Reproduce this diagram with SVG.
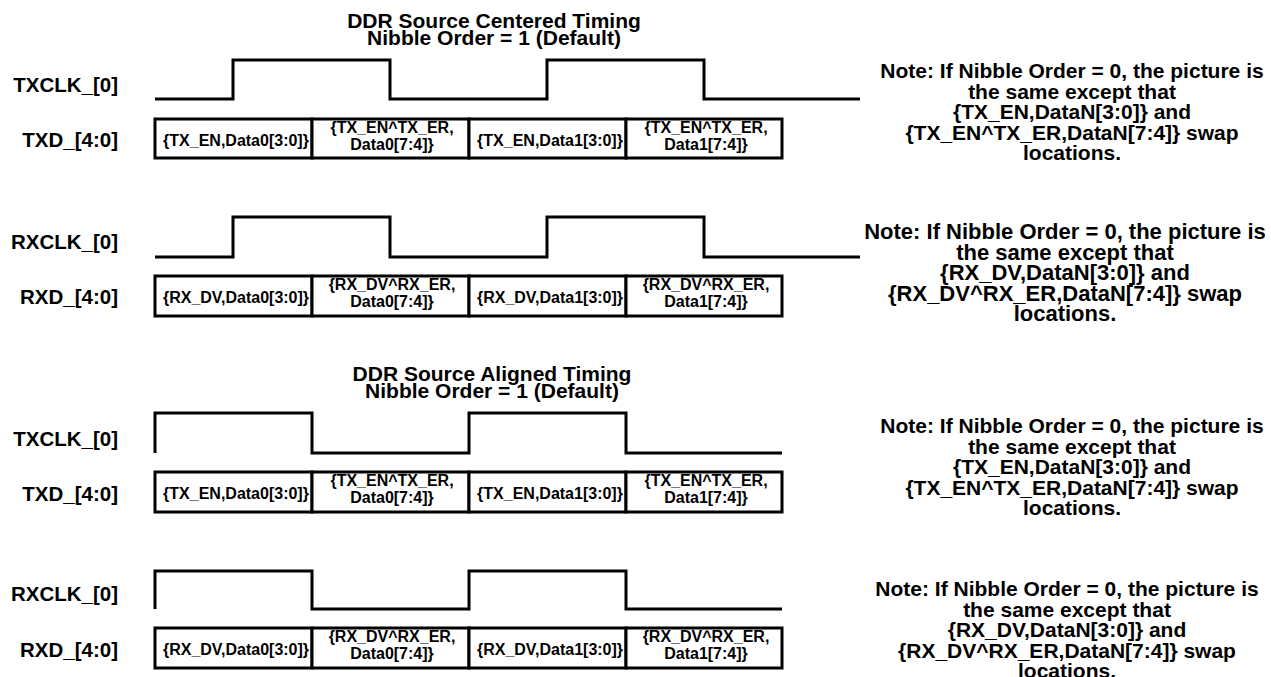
<svg xmlns="http://www.w3.org/2000/svg" width="1271" height="677" viewBox="0 0 1271 677">
<style>
text{font-family:"Liberation Sans",Arial,sans-serif;font-weight:bold;fill:#000}
.lbl{font-size:20.5px;text-anchor:end}
.title{font-size:21px;text-anchor:middle}
.ct{font-size:16px;text-anchor:middle}
.note{font-size:21px;text-anchor:middle}
.note2{font-size:22px;text-anchor:middle}
.wave{fill:none;stroke:#000;stroke-width:3;stroke-linejoin:miter;stroke-linecap:butt}
.cell rect{fill:#fff;stroke:#000;stroke-width:3}
</style>
<rect width="1271" height="677" fill="#fff"/>

<g id="title-centered">
<text class="title" x="494" y="28">DDR Source Centered Timing</text>
<text class="title" x="494" y="45">Nibble Order = 1 (Default)</text>
</g>
<g id="title-aligned">
<text class="title" x="492" y="381">DDR Source Aligned Timing</text>
<text class="title" x="492" y="398">Nibble Order = 1 (Default)</text>
</g>

<g id="labels">
<text class="lbl" x="118" y="92">TXCLK_[0]</text>
<text class="lbl" x="118" y="147">TXD_[4:0]</text>
<text class="lbl" x="118" y="249">RXCLK_[0]</text>
<text class="lbl" x="118" y="304">RXD_[4:0]</text>
<text class="lbl" x="118" y="446">TXCLK_[0]</text>
<text class="lbl" x="118" y="501">TXD_[4:0]</text>
<text class="lbl" x="118" y="601">RXCLK_[0]</text>
<text class="lbl" x="118" y="657">RXD_[4:0]</text>
</g>

<g id="connectors">
<path id="s1-txclk" class="wave" d="M155,99 H233 V60 H390 V99 H547 V60 H704 V99 H860"/>
<path id="s2-rxclk" class="wave" d="M155,257 H233 V217 H390 V257 H547 V217 H704 V257 H860"/>
<path id="s3-txclk" class="wave" d="M155,453 V413 H312 V453 H469 V413 H626 V453 H782"/>
<path id="s4-rxclk" class="wave" d="M155,609 V571 H312 V609 H469 V571 H626 V609 H782"/>
</g>

<!-- Section 1 TXD -->
<g id="s1-c1" class="cell"><rect x="155" y="119" width="157" height="39"/><text class="ct" x="236" y="145.5">{TX_EN,Data0[3:0]}</text></g>
<g id="s1-c2" class="cell"><rect x="312" y="119" width="157" height="39"/><text class="ct" x="392" y="132.5">{TX_EN^TX_ER,</text><text class="ct" x="392" y="149.5">Data0[7:4]}</text></g>
<g id="s1-c3" class="cell"><rect x="469" y="119" width="157" height="39"/><text class="ct" x="550" y="145.5">{TX_EN,Data1[3:0]}</text></g>
<g id="s1-c4" class="cell"><rect x="626" y="119" width="156" height="39"/><text class="ct" x="706" y="132.5">{TX_EN^TX_ER,</text><text class="ct" x="706" y="149.5">Data1[7:4]}</text></g>

<!-- Section 2 RXD -->
<g id="s2-c1" class="cell"><rect x="155" y="276" width="157" height="40"/><text class="ct" x="236" y="302.5">{RX_DV,Data0[3:0]}</text></g>
<g id="s2-c2" class="cell"><rect x="312" y="276" width="157" height="40"/><text class="ct" x="392" y="289.5">{RX_DV^RX_ER,</text><text class="ct" x="392" y="306.5">Data0[7:4]}</text></g>
<g id="s2-c3" class="cell"><rect x="469" y="276" width="157" height="40"/><text class="ct" x="550" y="302.5">{RX_DV,Data1[3:0]}</text></g>
<g id="s2-c4" class="cell"><rect x="626" y="276" width="156" height="40"/><text class="ct" x="706" y="289.5">{RX_DV^RX_ER,</text><text class="ct" x="706" y="306.5">Data1[7:4]}</text></g>

<!-- Section 3 TXD -->
<g id="s3-c1" class="cell"><rect x="155" y="472" width="157" height="40"/><text class="ct" x="236" y="498.5">{TX_EN,Data0[3:0]}</text></g>
<g id="s3-c2" class="cell"><rect x="312" y="472" width="157" height="40"/><text class="ct" x="392" y="485.5">{TX_EN^TX_ER,</text><text class="ct" x="392" y="502.5">Data0[7:4]}</text></g>
<g id="s3-c3" class="cell"><rect x="469" y="472" width="157" height="40"/><text class="ct" x="550" y="498.5">{TX_EN,Data1[3:0]}</text></g>
<g id="s3-c4" class="cell"><rect x="626" y="472" width="156" height="40"/><text class="ct" x="706" y="485.5">{TX_EN^TX_ER,</text><text class="ct" x="706" y="502.5">Data1[7:4]}</text></g>

<!-- Section 4 RXD -->
<g id="s4-c1" class="cell"><rect x="155" y="628" width="157" height="40"/><text class="ct" x="236" y="654.5">{RX_DV,Data0[3:0]}</text></g>
<g id="s4-c2" class="cell"><rect x="312" y="628" width="157" height="40"/><text class="ct" x="392" y="641.5">{RX_DV^RX_ER,</text><text class="ct" x="392" y="658.5">Data0[7:4]}</text></g>
<g id="s4-c3" class="cell"><rect x="469" y="628" width="157" height="40"/><text class="ct" x="550" y="654.5">{RX_DV,Data1[3:0]}</text></g>
<g id="s4-c4" class="cell"><rect x="626" y="628" width="156" height="40"/><text class="ct" x="706" y="641.5">{RX_DV^RX_ER,</text><text class="ct" x="706" y="658.5">Data1[7:4]}</text></g>

<g id="note1">
<text class="note" x="1072" y="78">Note: If Nibble Order = 0, the picture is</text>
<text class="note" x="1072" y="98.5">the same except that</text>
<text class="note" x="1072" y="119">{TX_EN,DataN[3:0]} and</text>
<text class="note" x="1072" y="139.5">{TX_EN^TX_ER,DataN[7:4]} swap</text>
<text class="note" x="1072" y="160">locations.</text>
</g>
<g id="note2">
<text class="note2" x="1065" y="239">Note: If Nibble Order = 0, the picture is</text>
<text class="note2" x="1065" y="259.5">the same except that</text>
<text class="note2" x="1065" y="280">{RX_DV,DataN[3:0]} and</text>
<text class="note2" x="1065" y="300.5">{RX_DV^RX_ER,DataN[7:4]} swap</text>
<text class="note2" x="1065" y="321">locations.</text>
</g>
<g id="note3">
<text class="note" x="1072" y="433">Note: If Nibble Order = 0, the picture is</text>
<text class="note" x="1072" y="453.5">the same except that</text>
<text class="note" x="1072" y="474">{TX_EN,DataN[3:0]} and</text>
<text class="note" x="1072" y="494.5">{TX_EN^TX_ER,DataN[7:4]} swap</text>
<text class="note" x="1072" y="515">locations.</text>
</g>
<g id="note4">
<text class="note" x="1067" y="596">Note: If Nibble Order = 0, the picture is</text>
<text class="note" x="1067" y="616.5">the same except that</text>
<text class="note" x="1067" y="637">{RX_DV,DataN[3:0]} and</text>
<text class="note" x="1067" y="657.5">{RX_DV^RX_ER,DataN[7:4]} swap</text>
<text class="note" x="1067" y="678">locations.</text>
</g>
</svg>
